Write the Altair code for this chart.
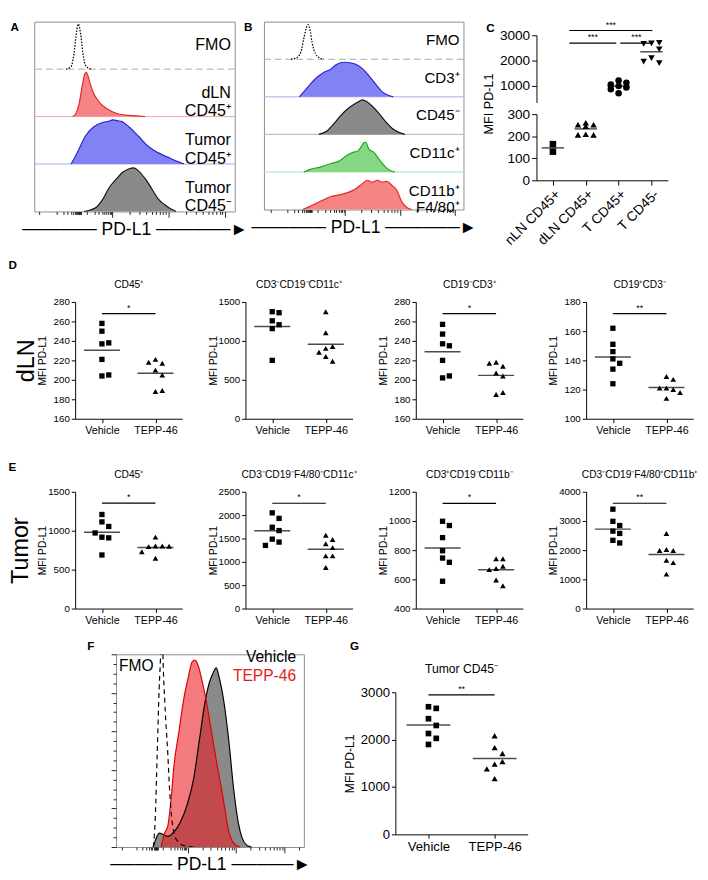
import math
import altair as alt
import pandas as pd

FONT = "Liberation Sans"

# ======================= DATA =======================
# Panel A: flow histograms. x = log10 display units of PD-L1, h = height relative to its row
A_labels = ["FMO", "dLN\nCD45⁺", "Tumor\nCD45⁺", "Tumor\nCD45⁻"]
A_fmo_x = [2.18, 2.27, 2.32, 2.36, 2.40, 2.44, 2.48, 2.52, 2.58, 2.64]
A_fmo_h = [0.00, 0.05, 0.30, 0.70, 0.95, 0.75, 0.35, 0.10, 0.02, 0.00]
A_dln_x = [2.30, 2.35, 2.41, 2.47, 2.51, 2.54, 2.61, 2.67, 2.78, 2.90, 3.07, 3.24, 3.41, 3.58]
A_dln_h = [0.00, 0.05, 0.25, 0.65, 0.88, 0.93, 0.69, 0.49, 0.29, 0.17, 0.07, 0.03, 0.015, 0.00]
A_tp_x = [2.27, 2.32, 2.41, 2.52, 2.67, 2.84, 2.93, 3.01, 3.10, 3.16, 3.30, 3.47, 3.64, 3.81, 3.99, 4.16, 4.27]
A_tp_h = [0.00, 0.10, 0.31, 0.58, 0.78, 0.88, 0.90, 0.93, 0.91, 0.90, 0.78, 0.58, 0.37, 0.24, 0.14, 0.05, 0.00]
A_tm_x = [2.50, 2.61, 2.73, 2.84, 2.95, 3.07, 3.18, 3.30, 3.38, 3.47, 3.59, 3.70, 3.81, 3.93, 4.04, 4.13]
A_tm_h = [0.00, 0.03, 0.10, 0.27, 0.51, 0.68, 0.82, 0.90, 0.92, 0.85, 0.68, 0.48, 0.27, 0.14, 0.05, 0.00]

# Panel B
B_labels = ["FMO", "CD3⁺", "CD45⁻", "CD11c⁺", "CD11b⁺\nF4/80⁺"]
B_fmo_x = [2.03, 2.12, 2.21, 2.26, 2.31, 2.34, 2.37, 2.41, 2.47, 2.53, 2.62]
B_fmo_h = [0.00, 0.03, 0.20, 0.55, 0.85, 0.92, 0.80, 0.45, 0.15, 0.05, 0.00]
B_cd3_x = [2.18, 2.26, 2.38, 2.50, 2.62, 2.74, 2.85, 3.00, 3.12, 3.21, 3.32, 3.44, 3.56, 3.68, 3.79, 3.88]
B_cd3_h = [0.00, 0.13, 0.34, 0.52, 0.65, 0.73, 0.86, 0.92, 0.90, 0.86, 0.75, 0.56, 0.34, 0.13, 0.04, 0.00]
B_cd45_x = [2.53, 2.68, 2.79, 2.91, 3.03, 3.15, 3.24, 3.32, 3.41, 3.50, 3.62, 3.74, 3.85, 3.97, 4.09]
B_cd45_h = [0.00, 0.09, 0.26, 0.47, 0.65, 0.78, 0.86, 0.92, 0.86, 0.75, 0.56, 0.34, 0.17, 0.06, 0.00]
B_cd11c_x = [2.26, 2.38, 2.56, 2.74, 2.91, 3.03, 3.15, 3.24, 3.29, 3.35, 3.38, 3.44, 3.53, 3.62, 3.74, 3.85, 3.91]
B_cd11c_h = [0.00, 0.07, 0.13, 0.22, 0.30, 0.43, 0.52, 0.56, 0.65, 0.78, 0.79, 0.60, 0.52, 0.34, 0.13, 0.02, 0.00]
B_cd11b_x = [2.24, 2.38, 2.56, 2.74, 2.91, 3.09, 3.21, 3.32, 3.41, 3.50, 3.59, 3.68, 3.76, 3.85, 3.94, 4.03, 4.12, 4.21]
B_cd11b_h = [0.00, 0.09, 0.22, 0.34, 0.39, 0.47, 0.56, 0.69, 0.78, 0.73, 0.78, 0.73, 0.75, 0.65, 0.52, 0.22, 0.06, 0.00]

# Panel C: MFI PD-L1 by population
C_cats = ["nLN CD45+", "dLN CD45+", "T CD45+", "T CD45-"]
C_nln = [130, 164]
C_dln = [261, 252, 252, 246, 209, 206, 206]
C_tp = [1220, 1130, 1060, 1000, 940, 870, 710]
C_tm = [2680, 2700, 2660, 2450, 2100, 1900, 1960]
C_sig = [("dLN CD45+", "T CD45-", 3190, "***"),
         ("dLN CD45+", "T CD45+", 2690, "***"),
         ("T CD45+", "T CD45-", 2690, "***")]

# Panels D / E / G: Vehicle vs TEPP-46
VT = ["Vehicle", "TEPP-46"]
D1_veh = [258, 250, 237, 238, 221, 204, 205]
D1_tepp = [221, 217, 218, 210, 205, 188, 189]
D2_veh = [1375, 1362, 1258, 1208, 1158, 750]
D2_tepp = [1375, 1104, 904, 929, 854, 800, 738]
D3_veh = [257, 247, 237, 235, 220, 202, 204]
D3_tepp = [218, 214, 217, 207, 204, 185, 187]
D4_veh = [162, 151, 146, 141, 138, 134, 124]
D4_tepp = [129, 127, 121, 120, 121, 118, 114]
E1_veh = [1208, 1113, 1054, 917, 908, 971, 688]
E1_tepp = [917, 804, 804, 796, 800, 729, 646]
E2_veh = [2049, 1930, 1740, 1669, 1486, 1423, 1352]
E2_tepp = [1571, 1479, 1387, 1305, 1127, 1127, 880]
E3_veh = [998, 969, 886, 796, 746, 717, 587]
E3_tepp = [741, 741, 674, 690, 667, 596, 556]
E4_veh = [3404, 2988, 2843, 2652, 2573, 2337, 2247]
E4_tepp = [2573, 2022, 1989, 1989, 1652, 1573, 1180]
G_veh = [2694, 2660, 2442, 2299, 2129, 2027, 1898]
G_tepp = [2082, 1830, 1707, 1483, 1537, 1381, 1177]

# Panel F: overlay histograms, y = % of max
F_fmo_x = [2.29, 2.33, 2.37, 2.41, 2.44, 2.47, 2.49, 2.53, 2.59, 2.63, 2.67, 2.72, 2.79, 2.95, 3.12]
F_fmo_p = [0, 15, 48, 82, 99, 125, 99, 74, 48, 28, 15, 7, 3, 0.5, 0]
F_tepp_x = [2.45, 2.52, 2.59, 2.65, 2.72, 2.82, 2.92, 3.02, 3.09, 3.15, 3.22, 3.29, 3.39, 3.49, 3.59, 3.72, 3.85, 3.95, 4.08]
F_tepp_p = [0, 7, 11, 23, 43, 60, 77, 89, 96, 97, 94, 87, 75, 60, 45, 27, 8, 2, 0]
F_veh_x = [2.29, 2.35, 2.42, 2.59, 2.72, 2.85, 2.99, 3.12, 3.25, 3.35, 3.45, 3.52, 3.59, 3.65, 3.75, 3.85, 3.95, 4.05, 4.12, 4.22, 4.32]
F_veh_p = [0, 4.7, 7.2, 5.5, 8, 13, 22, 35, 57, 74, 85.5, 90, 93, 88, 75, 55, 30, 12, 5, 1, 0]

# ======================= STYLE =======================
RED_F, RED_L, RED_B = "#f58585", "#e3262b", "#f2a6a6"
BLUE_F, BLUE_L, BLUE_B = "#8282f4", "#2626d0", "#aaaaf0"
GRAY_F, GRAY_L, GRAY_B = "#8a8a8a", "#151515", "#b4b4b4"
GREEN_F, GREEN_L, GREEN_B = "#84d884", "#23a323", "#abe2ab"
FMO_B = "#a8a8a8"
ARROW_A = "─" * 6 + " PD-L1 " + "─" * 6 + "►"
ARROW_F = "─" * 5 + " PD-L1 " + "─" * 5 + "►"
MAJOR_TEST = "datum.value == 3 || datum.value == 4 || datum.value == 5"


def hist_ticks(zero):
    t = [zero + d for d in (-0.72, -0.42, -0.30, -0.22, -0.16, -0.12, -0.09, -0.065,
                            -0.045, -0.03, -0.02, -0.01, 0.0, 0.01, 0.02)]
    p2 = zero + 0.12
    t += [p2 + (3 - p2) * math.log10(k) for k in range(1, 10)]
    t += [d + math.log10(k) for d in (3, 4, 5) for k in range(1, 10)]
    return t


def hist_xaxis(zero, xdom, arrow, fs=18):
    vals = sorted(set(round(v, 4) for v in hist_ticks(zero) if xdom[0] < v < xdom[1]))
    return alt.Axis(values=vals, labels=False, domain=False, grid=False,
                    tickSize={"condition": {"test": MAJOR_TEST, "value": 6}, "value": 3},
                    tickColor="#222222", title=arrow, titleFontSize=fs,
                    titleFontWeight="normal", titlePadding=3)


def letter_axis(letter, tx, ty):
    return alt.Axis(title=letter, labels=False, ticks=False, domain=False, grid=False,
                    titleAngle=0, titleX=tx, titleY=ty, titleAlign="left",
                    titleBaseline="top", titleFontSize=12, titleFontWeight="bold")


def spacer(w, h=1, letter=None, off=0):
    sp = alt.Chart(pd.DataFrame({"v": [0]})).mark_point(opacity=0, size=1).encode(
        x=alt.value(0), y=alt.value(0))
    if letter:
        return sp.properties(width=w, height=h, title=alt.TitleParams(
            letter, anchor="start", fontSize=12, fontWeight="bold", offset=off))
    return sp.properties(width=w, height=h)


def hist_panel(labels, curves, fills, strokes, base_cols, xdom, zero, w, h, letter,
               letter_xy, lab_fs, lab_lh, arrow):
    n = len(labels)
    rec = []
    for i, (xs, hs) in enumerate(curves):
        b = n - 1 - i
        for x, v in zip(xs, hs):
            rec.append({"s": i, "x": x, "y": b + v, "b": b, "fill": fills[i], "stroke": strokes[i]})
    df = pd.DataFrame(rec)
    xsc = alt.Scale(domain=xdom, nice=False, zero=False)
    ysc = alt.Scale(domain=[0, n], nice=False, zero=False)

    def X():
        return alt.X("x:Q", scale=xsc, axis=hist_xaxis(zero, xdom, arrow))

    def Y(f="y"):
        return alt.Y(f + ":Q", scale=ysc, axis=letter_axis(letter, *letter_xy))

    base_df = pd.DataFrame({"b": [n - 1 - i for i in range(n - 1)], "c": base_cols[: n - 1]})
    dashed = alt.Chart(base_df.iloc[:1]).mark_rule(strokeDash=[7, 4], strokeWidth=1).encode(
        y=Y("b"), color=alt.Color("c:N", scale=None))
    solid = alt.Chart(base_df.iloc[1:]).mark_rule(strokeWidth=1).encode(
        y=Y("b"), color=alt.Color("c:N", scale=None))
    areas = alt.Chart(df[df.s > 0]).mark_area(interpolate="monotone").encode(
        x=X(), y=Y(), y2=alt.Y2("b:Q"), fill=alt.Fill("fill:N", scale=None), detail="s:N")
    lines = alt.Chart(df[df.s > 0]).mark_line(interpolate="monotone", strokeWidth=1.2).encode(
        x=X(), y=Y(), stroke=alt.Stroke("stroke:N", scale=None), detail="s:N")
    fmo = alt.Chart(df[df.s == 0]).mark_line(interpolate="monotone", strokeWidth=1.3,
                                             strokeDash=[1.5, 1.5], color="black").encode(x=X(), y=Y())
    lab_df = pd.DataFrame({"x": [xdom[1]] * n, "y": [n - 1 - i + 0.5 for i in range(n)], "t": labels})
    labs = alt.Chart(lab_df).mark_text(align="right", baseline="middle", dx=-4, fontSize=lab_fs,
                                       lineHeight=lab_lh, lineBreak="\n", color="black").encode(
        x=X(), y=Y(), text="t:N")
    return alt.layer(dashed, solid, areas, lines, fmo, labs).properties(
        width=w, height=h, view=alt.ViewBackground(stroke="#8c8c8c", strokeWidth=1))


def swarm(vals, ppu, step, cands=(0, 1, -1, 2, -2)):
    placed, out = [], []
    for v in vals:
        y = v * ppu
        best, best_d = 0.0, -1.0
        for c in cands:
            x = c * step
            d = min([math.hypot(x - px, y - py) for px, py in placed] or [1e9])
            if d >= 0.95 * step:
                best = x
                break
            if d > best_d:
                best, best_d = x, d
        placed.append((best, y))
        out.append(best)
    return out


def dot_panel(title, veh, tepp, ydom, ystep, sig, star, w=110, h=120, top_pad=0, fs=10, xfs=11,
              ttl_fs=10.5, ytfs=10.5, sizes=(30, 34), step=7, mlen=37, ext=24,
              xtitle=None, title_off=7, title_as_text=False):
    ppu = h / (ydom[1] - ydom[0])
    xppu = w / 2.0
    shapes = ["square", "triangle-up"]
    pts = []
    for g, vals in enumerate((veh, tepp)):
        for v, o in zip(vals, swarm(vals, ppu, step)):
            pts.append({"x": g + o / xppu, "y": v, "shape": shapes[g], "sz": sizes[g]})
    pts = pd.DataFrame(pts)
    means = pd.DataFrame({"x": [0, 1], "y": [sum(veh) / len(veh), sum(tepp) / len(tepp)]})
    xexpr = "[" + ",".join("'%s'" % c for c in VT) + "][datum.value]"
    xkw = dict(values=[0, 1], labelExpr=xexpr, tickSize=4, labelFontSize=xfs, labelPadding=2,
               grid=False, title=None)
    if xtitle:
        xkw.update(xtitle)
    ykw = dict(values=list(range(ydom[0], ydom[1] + 1, ystep)), format="d", tickSize=4,
               labelFontSize=fs, labelPadding=2, grid=False, title="MFI PD-L1",
               titleFontSize=ytfs, titleFontWeight="normal", titlePadding=4)
    if ext:
        ykw.update(minExtent=ext, maxExtent=ext)
    xsc = alt.Scale(domain=[-0.5, 1.5], nice=False, zero=False)
    ysc = alt.Scale(domain=ydom, range=[h + top_pad, top_pad], nice=False, zero=False)

    def X():
        return alt.X("x:Q", scale=xsc, axis=alt.Axis(**xkw))

    def Y():
        return alt.Y("y:Q", scale=ysc, axis=alt.Axis(**ykw))

    layers = [
        alt.Chart(pts).mark_point(filled=True, opacity=1, color="black").encode(
            x=X(), y=Y(), shape=alt.Shape("shape:N", scale=None), size=alt.Size("sz:Q", scale=None)),
        alt.Chart(means).mark_tick(orient="horizontal", size=mlen, thickness=1.5, color="black").encode(
            x=X(), y=Y()),
    ]
    if sig is not None:
        sdf = pd.DataFrame({"x": [0], "x2": [1], "y": [sig]})
        layers.append(alt.Chart(sdf).mark_rule(color="black", strokeWidth=1.2).encode(
            x=X(), x2="x2:Q", y=Y()))
        tdf = pd.DataFrame({"x": [0.5], "y": [sig], "t": [star]})
        layers.append(alt.Chart(tdf).mark_text(baseline="bottom", dy=-1, fontSize=9, color="black").encode(
            x=X(), y=Y(), text="t:N"))
    if title_as_text:
        ttl = pd.DataFrame({"x": [0.5], "y": [ydom[1]], "t": [title]})
        layers.append(alt.Chart(ttl).mark_text(baseline="middle", dy=-24, fontSize=ttl_fs, color="black").encode(
            x=X(), y=Y(), text="t:N"))
        return alt.layer(*layers).properties(width=w, height=h + top_pad)
    return alt.layer(*layers).properties(
        width=w, height=h + top_pad,
        title=alt.TitleParams(title, fontSize=ttl_fs, fontWeight="normal", frame="group", offset=title_off))


def c_panel():
    w = 135
    top_dom, bot_dom = [350, 3000], [0, 300]
    pad, h_top, h_bot = 14, 69, 68
    xppu = w / len(C_cats)
    shapes = ["square", "triangle-up", "circle", "triangle-down"]
    top_pts, bot_pts, top_m, bot_m = [], [], [], []
    for i, vals in enumerate((C_nln, C_dln, C_tp, C_tm)):
        mean = sum(vals) / len(vals)
        is_top = mean > bot_dom[1]
        ppu = h_top / (top_dom[1] - top_dom[0]) if is_top else h_bot / (bot_dom[1] - bot_dom[0])
        offs = swarm(vals, ppu, 8, (0, 1, -1))
        rows = [{"x": i + o / xppu, "y": v, "shape": shapes[i]} for v, o in zip(vals, offs)]
        (top_pts if is_top else bot_pts).extend(rows)
        (top_m if is_top else bot_m).append({"x": i, "y": mean})
    bars, stars = [], []
    for a, b, y, s in C_sig:
        ia, ib = C_cats.index(a), C_cats.index(b)
        x1 = ia - 0.5 if ia == 1 else ia + 0.05
        x2 = ib - 0.07 if ib == 2 else ib + 0.03
        bars.append({"x": x1, "x2": x2, "y": y})
        stars.append({"x": (x1 + x2) / 2, "y": y, "t": s})
    xsc = alt.Scale(domain=[-0.5, len(C_cats) - 0.5], nice=False, zero=False)
    xexpr = "[" + ",".join("'%s'" % c for c in C_cats) + "][datum.value]"

    def Xt():
        return alt.X("x:Q", scale=xsc, axis=alt.Axis(
            orient="top", labels=False, ticks=False, domain=False, grid=False, title="C",
            titleX=-52, titleY=1, titleAngle=0, titleAlign="left", titleBaseline="top",
            titleFontSize=12, titleFontWeight="bold"))

    def Yt():
        return alt.Y("y:Q", scale=alt.Scale(domain=top_dom, range=[h_top + pad, pad], nice=False, zero=False),
                     axis=alt.Axis(values=[1000, 2000, 3000], format="d", tickSize=5, labelFontSize=14,
                                   labelPadding=2, grid=False, title="MFI PD-L1", titleFontSize=13,
                                   titleFontWeight="normal", titleAngle=270, titleX=-49, titleY=84,
                                   titleAlign="center", titleBaseline="middle"))

    def Xb():
        return alt.X("x:Q", scale=xsc, axis=alt.Axis(
            values=list(range(len(C_cats))), labelExpr=xexpr, labelAngle=-45, labelFontSize=14,
            labelOverlap=False, tickSize=5, labelPadding=2, grid=False, title=None))

    def Yb():
        return alt.Y("y:Q", scale=alt.Scale(domain=bot_dom, nice=False, zero=False), axis=alt.Axis(
            values=[0, 100, 200, 300], format="d", tickSize=5, labelFontSize=14, labelPadding=2,
            grid=False, title=None))

    def pts_layer(d, X, Y):
        return alt.Chart(pd.DataFrame(d)).mark_point(filled=True, opacity=1, color="black", size=45).encode(
            x=X(), y=Y(), shape=alt.Shape("shape:N", scale=None))

    def mean_layer(d, X, Y):
        return alt.Chart(pd.DataFrame(d)).mark_tick(orient="horizontal", size=23, thickness=1.5,
                                                    color="black").encode(x=X(), y=Y())

    top = alt.layer(
        pts_layer(top_pts, Xt, Yt), mean_layer(top_m, Xt, Yt),
        alt.Chart(pd.DataFrame(bars)).mark_rule(color="black", strokeWidth=1.2).encode(x=Xt(), x2="x2:Q", y=Yt()),
        alt.Chart(pd.DataFrame(stars)).mark_text(baseline="bottom", dy=-1, fontSize=9, color="black").encode(
            x=Xt(), y=Yt(), text="t:N"),
    ).properties(width=w, height=h_top + pad)
    bot = alt.layer(pts_layer(bot_pts, Xb, Yb), mean_layer(bot_m, Xb, Yb)).properties(width=w, height=h_bot)
    return alt.vconcat(top, bot, spacing=12, bounds="flush")


def f_panel():
    w, h = 193, 198
    xdom = [1.52, 5.4]
    rec = []
    for s, xs, ps in (("veh", F_veh_x, F_veh_p), ("tepp", F_tepp_x, F_tepp_p), ("fmo", F_fmo_x, F_fmo_p)):
        for x, p in zip(xs, ps):
            rec.append({"s": s, "x": x, "y": p})
    df = pd.DataFrame(rec)
    xsc = alt.Scale(domain=xdom, nice=False, zero=False)
    ysc = alt.Scale(domain=[0, 100], nice=False, zero=False)

    def X():
        return alt.X("x:Q", scale=xsc, axis=hist_xaxis(2.36, xdom, ARROW_F))

    def Y():
        return alt.Y("y:Q", scale=ysc, axis=alt.Axis(
            values=list(range(0, 101, 5)), labels=False, domain=False, grid=False,
            tickSize={"condition": {"test": "datum.value % 20 == 0", "value": 5}, "value": 3},
            tickColor="#222222", title="F", titleX=-30, titleY=-14, titleAngle=0, titleAlign="left",
            titleBaseline="top", titleFontSize=12, titleFontWeight="bold"))

    veh = df[df.s == "veh"]
    tepp = df[df.s == "tepp"]
    fmo = df[df.s == "fmo"]
    lab = pd.DataFrame({"x": [xdom[1]], "y": [100]})
    lab_l = pd.DataFrame({"x": [xdom[0]], "y": [100]})
    layers = [
        alt.Chart(veh).mark_area(interpolate="monotone", color=GRAY_F, opacity=1).encode(x=X(), y=Y()),
        alt.Chart(tepp).mark_area(interpolate="monotone", color="#ea1a1f", opacity=0.58).encode(x=X(), y=Y()),
        alt.Chart(veh).mark_line(interpolate="monotone", color="black", strokeWidth=1.2).encode(x=X(), y=Y()),
        alt.Chart(tepp).mark_line(interpolate="monotone", color="#e00000", strokeWidth=1.2).encode(x=X(), y=Y()),
        alt.Chart(fmo).mark_line(interpolate="monotone", color="black", strokeWidth=1.2,
                                 strokeDash=[5, 4], clip=True).encode(x=X(), y=Y()),
        alt.Chart(lab).mark_text(text="Vehicle", align="right", baseline="top", dx=-8, dy=-5,
                                 fontSize=16, color="black").encode(x=X(), y=Y()),
        alt.Chart(lab).mark_text(text="TEPP-46", align="right", baseline="top", dx=-8, dy=14,
                                 fontSize=16, color="#e41a1c").encode(x=X(), y=Y()),
        alt.Chart(lab_l).mark_text(text="FMO", align="left", baseline="top", dx=3, dy=4,
                                   fontSize=16, color="black").encode(x=X(), y=Y()),
    ]
    return alt.layer(*layers).properties(width=w, height=h,
                                         view=alt.ViewBackground(stroke="#8c8c8c", strokeWidth=1))


# ======================= PANELS =======================
A = hist_panel(A_labels,
               [(A_fmo_x, A_fmo_h), (A_dln_x, A_dln_h), (A_tp_x, A_tp_h), (A_tm_x, A_tm_h)],
               ["none", RED_F, BLUE_F, GRAY_F], ["black", RED_L, BLUE_L, GRAY_L],
               [FMO_B, RED_B, BLUE_B, GRAY_B], [1.62, 5.17], 2.43, 206, 195, "A", (-25, 0),
               16.5, 19, ARROW_A)
B = hist_panel(B_labels,
               [(B_fmo_x, B_fmo_h), (B_cd3_x, B_cd3_h), (B_cd45_x, B_cd45_h),
                (B_cd11c_x, B_cd11c_h), (B_cd11b_x, B_cd11b_h)],
               ["none", BLUE_F, GRAY_F, GREEN_F, RED_F], ["black", BLUE_L, GRAY_L, GREEN_L, RED_L],
               [FMO_B, BLUE_B, GRAY_B, GREEN_B, RED_B], [1.54, 5.15], 2.38, 205, 193, "B", (-21, 0),
               15.5, 17, ARROW_A)
C = c_panel()

dln_lab = dict(title="dLN", titleX=-50, titleY=-60, titleAngle=270, titleAlign="center",
               titleBaseline="middle", titleFontSize=24, titleFontWeight="normal")
tum_lab = dict(title="Tumor", titleX=-56, titleY=-60, titleAngle=270, titleAlign="center",
               titleBaseline="middle", titleFontSize=24, titleFontWeight="normal")

D1 = dot_panel("CD45⁺", D1_veh, D1_tepp, [160, 280], 20, 268, "*", xtitle=dln_lab)
D2 = dot_panel("CD3⁻CD19⁻CD11c⁺", D2_veh, D2_tepp, [0, 1500], 500, None, None)
D3 = dot_panel("CD19⁻CD3⁺", D3_veh, D3_tepp, [160, 280], 20, 268, "*")
D4 = dot_panel("CD19⁺CD3⁻", D4_veh, D4_tepp, [100, 180], 20, 172, "**")

E1 = dot_panel("CD45⁺", E1_veh, E1_tepp, [0, 1500], 500, 1354, "*", xtitle=tum_lab)
E2 = dot_panel("CD3⁻CD19⁻F4/80⁻CD11c⁺", E2_veh, E2_tepp, [0, 2500], 500, 2254, "*")
E3 = dot_panel("CD3⁺CD19⁻CD11b⁻", E3_veh, E3_tepp, [400, 1200], 200, 1121, "*")
E4 = dot_panel("CD3⁻CD19⁻F4/80⁺CD11b⁺", E4_veh, E4_tepp, [0, 4000], 1000, 3607, "**")

g_lab = dict(title="G", titleX=-47, titleY=-199, titleAngle=0, titleAlign="left",
             titleBaseline="top", titleFontSize=12, titleFontWeight="bold")
G = dot_panel("Tumor CD45⁻", G_veh, G_tepp, [0, 3000], 1000, 2946, "**", w=136, h=146, top_pad=39,
              fs=13.5, xfs=13.5, ttl_fs=12.5, ytfs=12.5, sizes=(34, 40), step=8, mlen=45,
              ext=None, xtitle=g_lab, title_as_text=True)
F = f_panel()

# rows: flush layout, positions controlled by widths and spacers
row1 = alt.hconcat(spacer(26), A, spacer(30), B, spacer(75), C, spacing=0, bounds="flush")
rowD = alt.hconcat(spacer(3, letter="D", off=30), D1, D2, D3, D4, spacing=65, bounds="flush")
rowE = alt.hconcat(spacer(3, letter="E", off=18), E1, E2, E3, E4, spacing=65, bounds="flush")
rowFG = alt.hconcat(spacer(16), F, G, spacing=94, bounds="flush")

upper = alt.vconcat(row1, rowD, spacing=12)
lower = alt.vconcat(rowE, rowFG, spacing=14)
chart = alt.vconcat(upper, lower, spacing=26).properties(padding=0)
chart = chart.configure(font=FONT).configure_view(stroke=None).configure_axis(
    labelFont=FONT, titleFont=FONT, labelColor="black", titleColor="black",
    domainColor="black", tickColor="black", grid=False
).configure_title(font=FONT, fontWeight="normal", color="black", fontSize=10.5).configure_text(font=FONT)

chart.save("out.html", embed_options={"renderer": "svg", "actions": False})
